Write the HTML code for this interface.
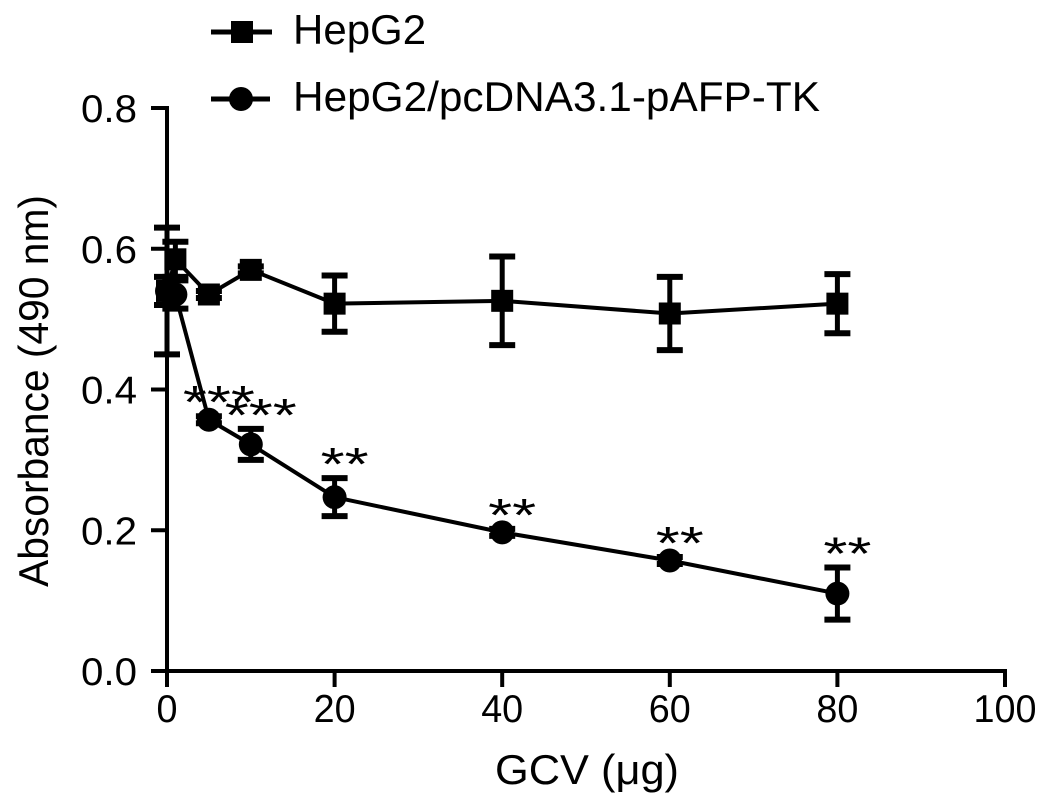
<!DOCTYPE html>
<html><head><meta charset="utf-8"><style>
html,body{margin:0;padding:0;background:#fff;}
svg{display:block;font-family:"Liberation Sans",Arial,sans-serif;}
</style></head><body>
<svg id="chart" width="1055" height="812" viewBox="0 0 1055 812">
<g>
 <g>
  <line x1="211" y1="32" x2="272" y2="32" stroke="#000" stroke-width="5"/>
  <rect x="231" y="21" width="22" height="22" fill="#000"/>
  <text x="293" y="44" font-size="42">HepG2</text>
 </g>
 <g>
  <line x1="211" y1="99" x2="270" y2="99" stroke="#000" stroke-width="5"/>
  <circle cx="241" cy="99" r="12" fill="#000"/>
  <text x="293" y="111" font-size="42" textLength="527" lengthAdjust="spacingAndGlyphs">HepG2/pcDNA3.1-pAFP-TK</text>
 </g>
</g>
<g id="axes"></g>
<g id="marks"></g>
<text transform="translate(48,391) rotate(-90)" text-anchor="middle" font-size="42" textLength="392" lengthAdjust="spacingAndGlyphs">Absorbance (490 nm)</text>
<text x="587" y="784" text-anchor="middle" font-size="42" textLength="184" lengthAdjust="spacingAndGlyphs">GCV (μg)</text>
</svg>
<script>
const xs = [0, 1, 5, 10, 20, 40, 60, 80];
const hepg2 = [0.54, 0.585, 0.535, 0.57, 0.522, 0.526, 0.508, 0.522];
const hepg2Err = [0.09, 0.025, 0.005, 0.005, 0.04, 0.063, 0.052, 0.042];
const tk = [0.54, 0.535, 0.357, 0.322, 0.247, 0.197, 0.157, 0.11];
const tkErr = [0.02, 0.02, 0.005, 0.022, 0.027, 0.005, 0.005, 0.037];
const stars = ["", "", "***", "***", "**", "**", "**", "**"];
const xTicks = [0, 20, 40, 60, 80, 100];
const yTicks = [0.0, 0.2, 0.4, 0.6, 0.8];

const NS = "http://www.w3.org/2000/svg";
function X(v){ return 167 + v * 8.38; }
function Y(v){ return 671 - v * 703.75; }
function mk(tag, attrs, parent){ const e=document.createElementNS(NS,tag); for(const k in attrs) e.setAttribute(k, attrs[k]); parent.appendChild(e); return e; }
const axes = document.getElementById('axes');
const marks = document.getElementById('marks');

const yAxis = mk('line',{x1:X(0),y1:Y(0.8)-2,x2:X(0),y2:Y(0)+2,stroke:'#000','stroke-width':4},axes);


const xAxis = mk('line',{x1:X(0)-2,y1:Y(0),x2:X(100)+2,y2:Y(0),stroke:'#000','stroke-width':4},axes);


yTicks.forEach(t=>{
  mk('line',{x1:X(0)-16,y1:Y(t),x2:X(0),y2:Y(t),stroke:'#000','stroke-width':4},axes);
  const tx = mk('text',{x:X(0)-30,y:Y(t)+14,'text-anchor':'end','font-size':39,textLength:56,lengthAdjust:'spacingAndGlyphs'},axes);
  tx.textContent = t.toFixed(1);
  
  
});
xTicks.forEach(t=>{
  mk('line',{x1:X(t),y1:Y(0),x2:X(t),y2:Y(0)+16,stroke:'#000','stroke-width':4},axes);
  const s = String(t);
  const tx = mk('text',{x:X(t),y:Y(0)+51,'text-anchor':'middle','font-size':39,textLength:s.length*21,lengthAdjust:'spacingAndGlyphs'},axes);
  tx.textContent = s;
  
  
});

function series(vals, errs, shape, name){
  const g = mk('g',{},marks);
  
  
  mk('polyline',{points:xs.map((x,i)=>X(x)+','+Y(vals[i])).join(' '),fill:'none',stroke:'#000','stroke-width':4},g);
  xs.forEach((x,i)=>{
    const cx=X(x), top=Y(vals[i]+errs[i]), bot=Y(vals[i]-errs[i]);
    mk('line',{x1:cx,y1:top,x2:cx,y2:bot,stroke:'#000','stroke-width':5},g);
    mk('line',{x1:cx-13,y1:top,x2:cx+13,y2:top,stroke:'#000','stroke-width':6},g);
    mk('line',{x1:cx-13,y1:bot,x2:cx+13,y2:bot,stroke:'#000','stroke-width':6},g);
    let m;
    if(shape==='sq') m = mk('rect',{x:cx-11,y:Y(vals[i])-11,width:22,height:22,fill:'#000'},g);
    else m = mk('circle',{cx:cx,cy:Y(vals[i]),r:12,fill:'#000'},g);
    
    
  });
}
series(hepg2, hepg2Err, 'sq', 'series-hepg2');
series(tk, tkErr, 'ci', 'series-hepg2-tk');

xs.forEach((x,i)=>{
  if(!stars[i]) return;
  const t = mk('text',{x:X(x)+10,y:Y(tk[i]+tkErr[i])+2,'text-anchor':'middle','font-size':46,textLength:stars[i].length*24,lengthAdjust:'spacingAndGlyphs'},marks);
  t.textContent = stars[i];
  
  
});
</script>
</body></html>
